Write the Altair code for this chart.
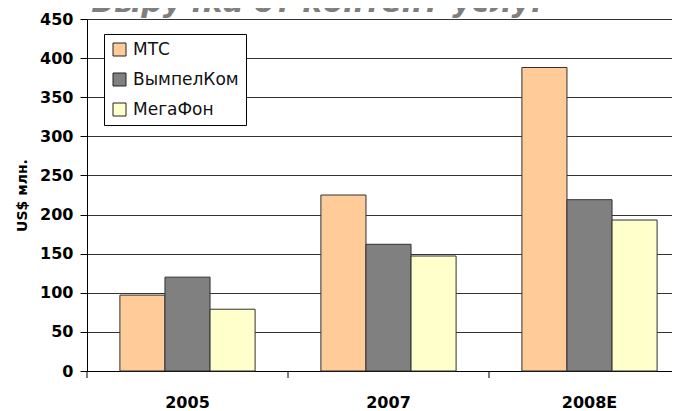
import altair as alt
import pandas as pd

years = ["2005", "2007", "2008E"]
operators = ["МТС", "ВымпелКом", "МегаФон"]
mts = [97, 225, 388]
vimpelcom = [120, 162, 219]
megafon = [79, 147, 193]
colors = ["#FFCC99", "#808080", "#FFFFCC"]
y_ticks = [0, 50, 100, 150, 200, 250, 300, 350, 400, 450]
title_text = "Выручка от контент-услуг"
y_title = "US$ млн."

series = {"МТС": mts, "ВымпелКом": vimpelcom, "МегаФон": megafon}
rows = []
for op in operators:
    for yr, v in zip(years, series[op]):
        rows.append({"year": yr, "operator": op, "value": v})
df = pd.DataFrame(rows)
df_years = pd.DataFrame({"year": years})
df_title = pd.DataFrame({"t": [title_text]})

x_scale = alt.Scale(range=[0, 603], paddingInner=0, paddingOuter=0)

bars = alt.Chart(df).mark_bar(stroke="#303030", strokeWidth=1).encode(
    x=alt.X("year:N", sort=years, scale=x_scale,
            axis=alt.Axis(title=None, ticks=False, labelAngle=0,
                          labelFont="DejaVu Sans", labelFontSize=16,
                          labelFontWeight="bold", labelColor="black",
                          labelPadding=23, domainColor="black", domainWidth=1)),
    xOffset=alt.XOffset("operator:N", sort=operators,
                        scale=alt.Scale(paddingOuter=0.73, paddingInner=0)),
    y=alt.Y("value:Q", scale=alt.Scale(domain=[0, 450], nice=False),
            axis=alt.Axis(values=y_ticks, title=y_title, titleX=-65, titleY=176,
                          titleAngle=-90, titleAlign="center", titleBaseline="middle",
                          titleFont="DejaVu Sans", titleFontSize=14,
                          titleFontWeight="bold", titleColor="black",
                          labelFont="DejaVu Sans", labelFontSize=16,
                          labelFontWeight="bold", labelColor="black",
                          labelPadding=7, tickSize=7, tickColor="black",
                          domainColor="black", gridColor="#333333", gridWidth=1)),
    color=alt.Color("operator:N", sort=operators,
                    scale=alt.Scale(domain=operators, range=colors),
                    legend=alt.Legend(orient="none", legendX=17, legendY=15, title=None,
                                      symbolType="square", symbolSize=169,
                                      symbolStrokeColor="#222222", symbolStrokeWidth=1,
                                      labelFont="DejaVu Sans", labelFontSize=17,
                                      labelColor="#111111", labelOffset=5,
                                      strokeColor="black", fillColor="white",
                                      padding=7, rowPadding=12)),
)

ticks = alt.Chart(df_years).mark_rule(color="black", strokeWidth=1).encode(
    x=alt.X("year:N", sort=years, bandPosition=0),
    y=alt.value(352),
    y2=alt.value(359),
)

title = alt.Chart(df_title).mark_text(
    font="DejaVu Sans", fontSize=30, fontWeight="bold", fontStyle="italic",
    color="#7f7f7f", align="center", baseline="alphabetic",
).encode(text="t:N", x=alt.value(232), y=alt.value(-7))

chart = alt.layer(bars, ticks, title).properties(
    width=585,
    height=352,
    autosize=alt.AutoSizeParams(type="none"),
    padding={"left": 79, "top": 11, "right": 0, "bottom": 40},
).configure_view(stroke=None)

chart.save("out.html", embed_options={"renderer": "svg", "actions": False})
